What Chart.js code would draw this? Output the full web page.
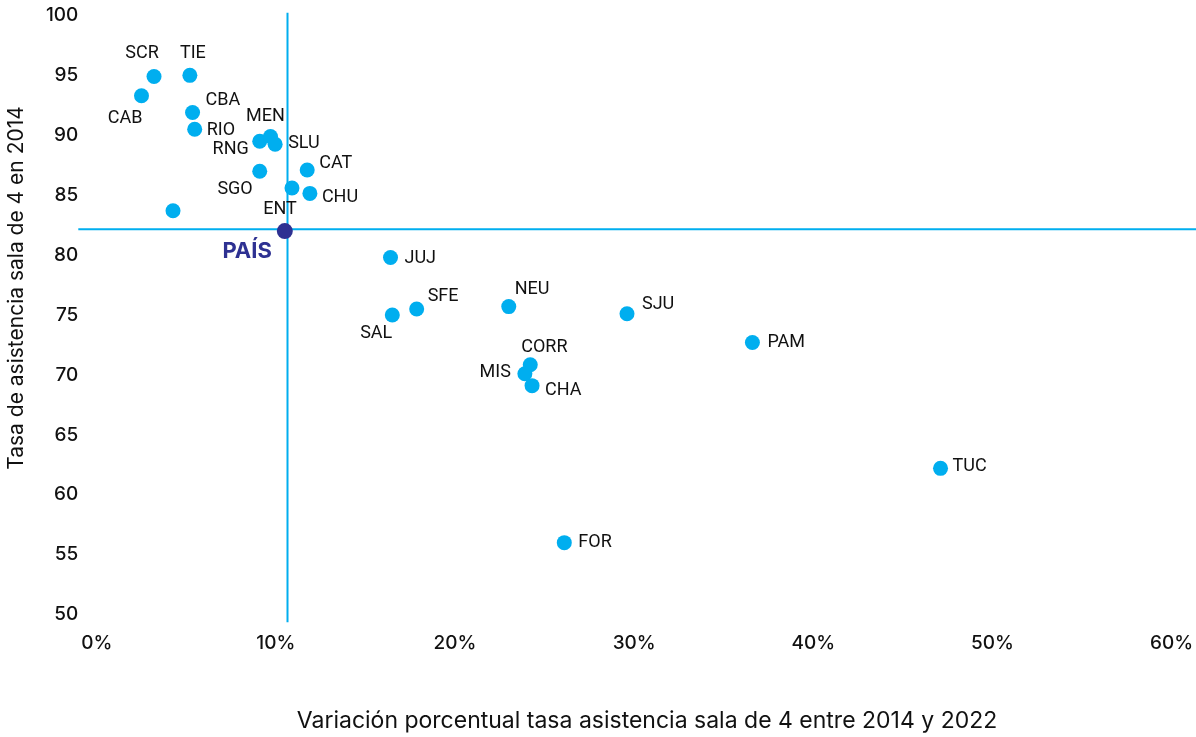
<!DOCTYPE html>
<html>
<head>
<meta charset="utf-8">
<script src="https://cdn.jsdelivr.net/npm/chart.js@4/dist/chart.umd.min.js"></script>
<style>
  html, body { margin: 0; padding: 0; background: #fff; }
  #wrap { width: 1196px; height: 737px; position: relative; }
</style>
</head>
<body>
<div id="wrap"><canvas id="c" width="1196" height="737"></canvas></div>
<script>
// ---- data ----
const provinces = ['SCR','TIE','CAB','CBA','RIO','RNG','MEN','SLU','SGO','CAT','ENT','CHU','','JUJ','SFE','SAL','NEU','SJU','CORR','MIS','CHA','PAM','TUC','FOR'];
const variation = [3.2, 5.2, 2.5, 5.35, 5.47, 9.1, 9.7, 9.96, 9.1, 11.75, 10.9, 11.9, 4.26, 16.4, 17.86, 16.5, 23.0, 29.6, 24.2, 23.9, 24.3, 36.6, 47.1, 26.1];
const rate2014 = [94.9, 95.0, 93.3, 91.9, 90.5, 89.5, 89.9, 89.25, 87.0, 87.1, 85.6, 85.15, 83.7, 79.8, 75.5, 75.0, 75.7, 75.1, 70.85, 70.1, 69.1, 72.7, 62.2, 56.0];
const countryName = ['PAÍS'];
const countryVariation = [10.5];
const countryRate = [82.0];
const refVariation = 10.65;
const refRate = 82.15;
const xTicks = [0, 10, 20, 30, 40, 50, 60];
const yTicks = [50, 55, 60, 65, 70, 75, 80, 85, 90, 95, 100];
const xTitle = 'Variación porcentual tasa asistencia sala de 4 entre 2014 y 2022';
const yTitle = 'Tasa de asistencia sala de 4 en 2014';

// label placement relative to each point (style only): [textAlign, dx, dy]
const labelLayout = [
  ['center', -12, -23], ['center', 3, -22], ['right', 1, 23], ['left', 13, -12], ['left', 12, 1],
  ['right', -11, 8], ['center', -5, -20], ['left', 13, -1], ['right', -7, 18], ['left', 12, -7],
  ['center', -12, 22], ['left', 12, 4], ['left', 0, 0], ['left', 14, 1], ['left', 11, -12],
  ['right', 0, 19], ['left', 6, -17], ['left', 15, -9], ['left', -9, -17], ['right', -14, -1],
  ['left', 13, 5], ['left', 15, 0], ['left', 12, -2], ['left', 14, 0]
];
const countryLayout = [['right', -13, 20]];

const CYAN = '#00AEEF';
const NAVY = '#2E3192';

const points = variation.map((v, i) => ({ x: v, y: rate2014[i] }));
const countryPoints = countryVariation.map((v, i) => ({ x: v, y: countryRate[i] }));

const refLines = {
  id: 'refLines',
  beforeDatasetsDraw(chart) {
    const { ctx, chartArea: a, scales: { x, y } } = chart;
    const px = x.getPixelForValue(refVariation);
    const py = y.getPixelForValue(refRate);
    ctx.save();
    ctx.strokeStyle = CYAN;
    ctx.lineWidth = 2;
    ctx.beginPath();
    ctx.moveTo(px, a.top); ctx.lineTo(px, a.bottom);
    ctx.moveTo(a.left, py); ctx.lineTo(a.right, py);
    ctx.stroke();
    ctx.restore();
  }
};

const pointLabels = {
  id: 'pointLabels',
  afterDatasetsDraw(chart) {
    const { ctx } = chart;
    ctx.save();
    ctx.textBaseline = 'middle';
    const m0 = chart.getDatasetMeta(0);
    ctx.font = '18px Roboto';
    ctx.fillStyle = '#111';
    m0.data.forEach((el, i) => {
      const t = provinces[i];
      if (!t) return;
      const [al, dx, dy] = labelLayout[i];
      ctx.textAlign = al;
      ctx.fillText(t, el.x + dx, el.y + dy);
    });
    const m1 = chart.getDatasetMeta(1);
    ctx.font = 'bold 22px Inter';
    ctx.fillStyle = NAVY;
    m1.data.forEach((el, i) => {
      const [al, dx, dy] = countryLayout[i];
      ctx.textAlign = al;
      ctx.fillText(countryName[i], el.x + dx, el.y + dy);
    });
    ctx.restore();
  }
};

const axisTitles = {
  id: 'axisTitles',
  afterDraw(chart) {
    const { ctx } = chart;
    ctx.save();
    ctx.fillStyle = '#111';
    ctx.textAlign = 'center';
    ctx.textBaseline = 'middle';
    ctx.font = '23px Inter';
    ctx.fillText(xTitle, 647, 721);
    ctx.translate(17, 288);
    ctx.rotate(-Math.PI / 2);
    ctx.font = '21px Inter';
    ctx.fillText(yTitle, 0, 0);
    ctx.restore();
  }
};

new Chart(document.getElementById('c'), {
  type: 'scatter',
  data: {
    datasets: [
      { data: points, backgroundColor: CYAN, borderWidth: 0, pointRadius: 7.5, pointHoverRadius: 7.5 },
      { data: countryPoints, backgroundColor: NAVY, borderWidth: 0, pointRadius: 8, pointHoverRadius: 8 }
    ]
  },
  options: {
    responsive: false,
    animation: false,
    events: [],
    layout: { autoPadding: false, padding: { top: 12.7, right: 0, bottom: 0, left: 0 } },
    plugins: { legend: { display: false }, tooltip: { enabled: false } },
    scales: {
      x: {
        type: 'linear',
        min: -1.027, max: 61.36,
        afterBuildTicks: s => { s.ticks = xTicks.map(v => ({ value: v })); },
        afterFit: s => { s.height = 114.7; s.paddingLeft = 0; s.paddingRight = 0; },
        grid: { display: false, drawTicks: false },
        border: { display: false },
        ticks: { padding: 10, color: '#111', font: { family: 'Inter', size: 19, weight: '500' }, callback: v => v + '%', maxRotation: 0, autoSkip: false }
      },
      y: {
        type: 'linear',
        min: 49.35, max: 100.23,
        afterBuildTicks: s => { s.ticks = yTicks.map(v => ({ value: v })); },
        afterFit: s => { s.width = 78.3; s.paddingTop = 0; s.paddingBottom = 0; },
        grid: { display: false, drawTicks: false },
        border: { display: false },
        ticks: { padding: 0, color: '#111', font: { family: 'Inter', size: 19, weight: '500' }, autoSkip: false }
      }
    }
  },
  plugins: [refLines, pointLabels, axisTitles]
});
</script>
</body>
</html>
